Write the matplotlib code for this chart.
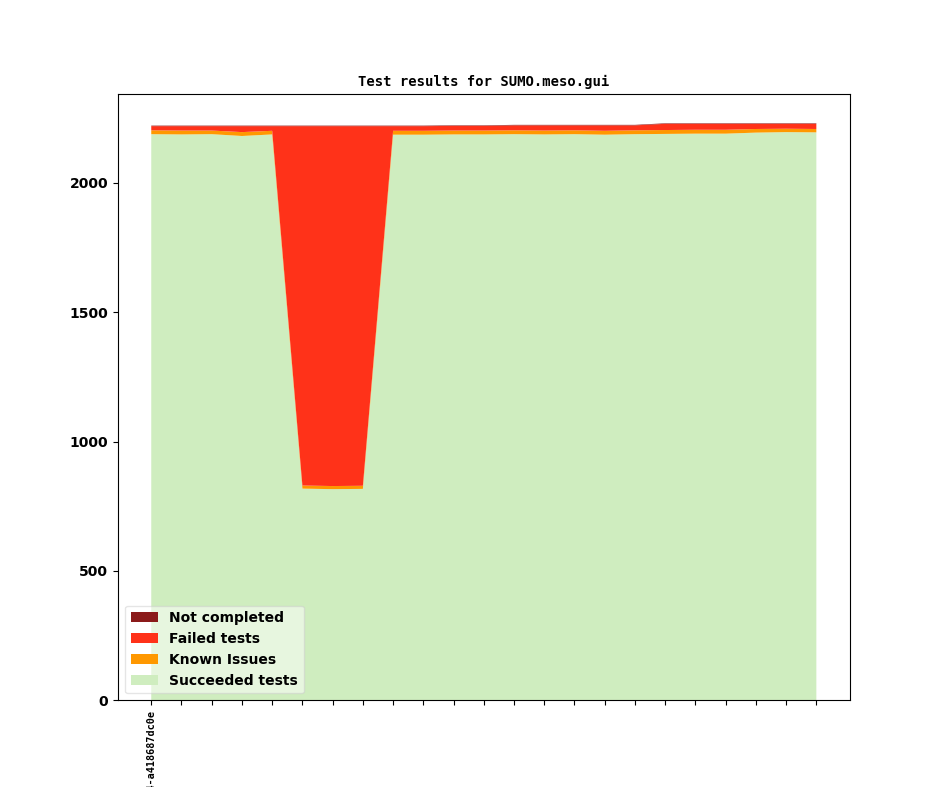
import matplotlib
matplotlib.use("Agg")
import matplotlib.pyplot as plt
import numpy as np

succeeded = [2187, 2186, 2187, 2180, 2186, 818, 816, 817, 2185, 2185, 2186, 2186,
             2187, 2186, 2187, 2185, 2187, 2188, 2189, 2189, 2193, 2195, 2194]
known = [15, 15, 14, 15, 14, 12, 12, 12, 15, 15, 15, 15,
         15, 15, 15, 15, 15, 15, 15, 15, 14, 13, 13]
failed = [16, 17, 17, 23, 18, 1388, 1390, 1389, 18, 18, 18, 18,
          19, 20, 19, 21, 19, 24, 23, 23, 20, 19, 20]
not_completed = [2, 2, 2, 2, 2, 2, 2, 2, 2, 2, 2, 2,
                 2, 2, 2, 2, 2, 2, 2, 2, 2, 2, 2]
tick_labels = ["v1_22_0+0154-a418687dc0e"] + [""] * 22

colors = ["#CFEDBF", "#FF9800", "#FF3219", "#8B1A1A"]
labels = ["Succeeded tests", "Known Issues", "Failed tests", "Not completed"]

fig = plt.figure(figsize=(9.44, 7.87), dpi=100)
ax = fig.add_subplot(111)
x = np.arange(len(succeeded))
ax.stackplot(x, succeeded, known, failed, not_completed,
             colors=colors, labels=labels)
ax.set_xticks(x)
ax.set_xticklabels(tick_labels, rotation=90, family="DejaVu Sans Mono",
                   fontweight="bold", fontsize=7.3)
for t in ax.get_yticklabels():
    t.set_fontweight("bold")
    t.set_fontsize(10)
ax.set_title("Test results for SUMO.meso.gui", family="DejaVu Sans Mono",
             fontweight="bold", fontsize=10)
handles, labs = ax.get_legend_handles_labels()
ax.legend(handles[::-1], labs[::-1], loc="lower left", framealpha=0.5,
          prop={"weight": "bold", "size": 10})
fig.savefig("out.png", dpi=100)
